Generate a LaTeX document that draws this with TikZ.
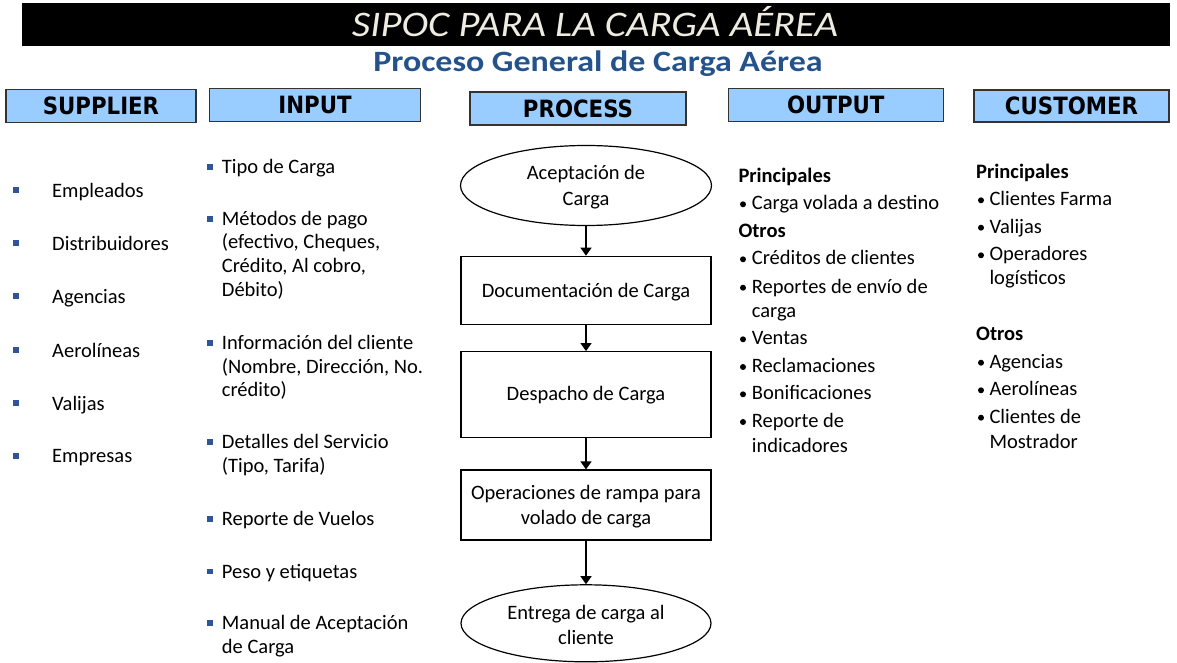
\documentclass[tikz,border=0pt]{standalone}
\usepackage{fontspec}
\setmainfont{Carlito}
\newfontfamily\hdrfont{DejaVu Sans}
\usetikzlibrary{shapes.geometric,arrows.meta}
\definecolor{hdrfill}{HTML}{99CCFF}
\definecolor{subblue}{HTML}{24528A}
\definecolor{bulblue}{HTML}{2F5597}
\definecolor{titlecol}{HTML}{EEECE1}
\begin{document}
\begin{tikzpicture}[x=1pt,y=-1pt,
  body/.style={font=\fontsize{20.5}{24}\selectfont, anchor=base west, inner sep=0pt},
  bodyb/.style={font=\fontsize{20.5}{24}\selectfont\bfseries, anchor=base west, inner sep=0pt},
  ptext/.style={font=\fontsize{20.5}{24}\selectfont, anchor=base, inner sep=0pt},
  hdr/.style={draw=black!80, line width=1.3pt, fill=hdrfill, inner sep=0pt,
    font=\hdrfont\bfseries\fontsize{23.8}{28}\selectfont, text height=17.3pt, text depth=0pt},
  sq/.style={fill=bulblue, minimum size=5.8pt, inner sep=0pt},
  dot/.style={circle, fill=black, minimum size=6pt, inner sep=0pt},
  proc/.style={draw, line width=1.2pt, minimum width=250pt, inner sep=0pt},
  flow/.style={-{Triangle[width=11pt,length=8pt]}, line width=1.3pt}
]
\fill[white] (0,0) rectangle (1177,663);
\useasboundingbox (0,0) rectangle (1177,663);

% title
\node[fill=black, minimum width=1148pt, minimum height=43pt, inner sep=0pt] (bar) at (596,24.5) {};
\node[anchor=base, inner sep=0pt, text=titlecol, font=\itshape\fontsize{36}{42}\selectfont] (title) at (595,36.7)
  {\resizebox{486pt}{\height}{SIPOC PARA LA CARGA AÉREA}};
\node[anchor=base, inner sep=0pt, text=subblue, font=\bfseries\fontsize{29.5}{36}\selectfont] (sub) at (598,71.7)
  {\resizebox{449.4pt}{\height}{Proceso General de Carga Aérea}};

% headers
\node[hdr, minimum width=190pt, minimum height=33.4pt] (hS) at (101,106) {\scalebox{0.895}[1]{SUPPLIER}};
\node[hdr, minimum width=211.4pt, minimum height=33.4pt] (hI) at (315,105) {\scalebox{0.895}[1]{INPUT}};
\node[hdr, minimum width=216pt, minimum height=33pt] (hP) at (578,108.5) {\scalebox{0.895}[1]{PROCESS}};
\node[hdr, minimum width=215pt, minimum height=33.4pt] (hO) at (835.8,105) {\scalebox{0.895}[1]{OUTPUT}};
\node[hdr, minimum width=195pt, minimum height=32pt] (hC) at (1071.5,106) {\scalebox{0.895}[1]{CUSTOMER}};

% supplier
\node[sq] (sb1) at (16.3,190) {}; \node[body] (s1) at (52,197) {Empleados};
\node[sq] (sb2) at (16.3,243.3) {}; \node[body] (s2) at (52,250.3) {Distribuidores};
\node[sq] (sb3) at (16.3,296.3) {}; \node[body] (s3) at (52,303.3) {Agencias};
\node[sq] (sb4) at (16.3,350) {}; \node[body] (s4) at (52,357) {Aerolíneas};
\node[sq] (sb5) at (16.3,403.3) {}; \node[body] (s5) at (52,410.3) {Valijas};
\node[sq] (sb6) at (16.3,455.7) {}; \node[body] (s6) at (52,462.7) {Empresas};

% input
\node[sq] (ib1) at (209.7,167) {}; \node[body] (i1) at (221.7,173.5) {Tipo de Carga};
\node[sq] (ib2) at (209.7,218.8) {}; \node[body] (i2a) at (221.7,225.3) {Métodos de pago};
\node[body] (i2b) at (221.7,248.8) {(efectivo, Cheques,};
\node[body] (i2c) at (221.7,272.8) {Crédito, Al cobro,};
\node[body] (i2d) at (221.7,296.3) {Débito)};
\node[sq] (ib3) at (209.7,342.8) {}; \node[body] (i3a) at (221.7,349.3) {Información del cliente};
\node[body] (i3b) at (221.7,373) {(Nombre, Dirección, No.};
\node[body] (i3c) at (221.7,396.5) {crédito)};
\node[sq] (ib4) at (209.7,442.3) {}; \node[body] (i4a) at (221.7,448.8) {Detalles del Servicio};
\node[body] (i4b) at (221.7,472.8) {(Tipo, Tarifa)};
\node[sq] (ib5) at (209.7,519) {}; \node[body] (i5) at (221.7,525.5) {Reporte de Vuelos};
\node[sq] (ib6) at (209.7,571.5) {}; \node[body] (i6) at (221.7,578) {Peso y etiquetas};
\node[sq] (ib7) at (209.7,623) {}; \node[body] (i7a) at (221.7,629.5) {Manual de Aceptación};
\node[body] (i7b) at (221.7,653) {de Carga};

% process
\node[proc, ellipse, minimum width=251pt, minimum height=80pt] (p1) at (586,185.5) {};
\node[ptext] (t1a) at (586,180) {Aceptación de};
\node[ptext] (t1b) at (586,205.5) {Carga};
\node[proc, minimum height=68pt] (p2) at (586,290.3) {};
\node[ptext] (t2) at (586,297) {Documentación de Carga};
\node[proc, minimum height=86pt] (p3) at (586,394.7) {};
\node[ptext] (t3) at (586,400.5) {Despacho de Carga};
\node[proc, minimum height=70pt] (p4) at (586,505) {};
\node[ptext] (t4a) at (586,499) {Operaciones de rampa para};
\node[ptext] (t4b) at (586,524) {volado de carga};
\node[proc, ellipse, minimum width=250pt, minimum height=77pt] (p5) at (586,623.3) {};
\node[ptext] (t5a) at (586,619) {Entrega de carga al};
\node[ptext] (t5b) at (586,644) {cliente};
\draw[flow] (p1.south) -- (p2.north);
\draw[flow] (p2.south) -- (p3.north);
\draw[flow] (p3.south) -- (p4.north);
\draw[flow] (p4.south) -- (p5.north);

% output
\node[bodyb] (o0) at (738.3,182.2) {Principales};
\node[dot] (od1) at (743,204.3) {}; \node[body] (o1) at (751.7,209.8) {Carga volada a destino};
\node[bodyb] (o00) at (738.3,237.5) {Otros};
\node[dot] (od2) at (743,259.3) {}; \node[body] (o2) at (751.7,264.8) {Créditos de clientes};
\node[dot] (od3) at (743,287.7) {}; \node[body] (o3a) at (751.7,293.2) {Reportes de envío de};
\node[body] (o3b) at (751.7,317) {carga};
\node[dot] (od4) at (743,339.3) {}; \node[body] (o4) at (751.7,344.8) {Ventas};
\node[dot] (od5) at (743,367) {}; \node[body] (o5) at (751.7,372.5) {Reclamaciones};
\node[dot] (od6) at (743,394.3) {}; \node[body] (o6) at (751.7,399.8) {Bonificaciones};
\node[dot] (od7) at (743,422) {}; \node[body] (o7a) at (751.7,427.5) {Reporte de};
\node[body] (o7b) at (751.7,452.3) {indicadores};

% customer
\node[bodyb] (c0) at (976,178.2) {Principales};
\node[dot] (cd1) at (981,200.3) {}; \node[body] (c1) at (989.3,205.8) {Clientes Farma};
\node[dot] (cd2) at (981,227.7) {}; \node[body] (c2) at (989.3,233.2) {Valijas};
\node[dot] (cd3) at (981,255.3) {}; \node[body] (c3a) at (989.3,260.8) {Operadores};
\node[body] (c3b) at (989.3,284.8) {logísticos};
\node[bodyb] (c00) at (976,340.8) {Otros};
\node[dot] (cd4) at (981,362.7) {}; \node[body] (c4) at (989.3,368.2) {Agencias};
\node[dot] (cd5) at (981,390.3) {}; \node[body] (c5) at (989.3,395.8) {Aerolíneas};
\node[dot] (cd6) at (981,417.7) {}; \node[body] (c6a) at (989.3,423.2) {Clientes de};
\node[body] (c6b) at (989.3,448) {Mostrador};
\end{tikzpicture}
\end{document}
